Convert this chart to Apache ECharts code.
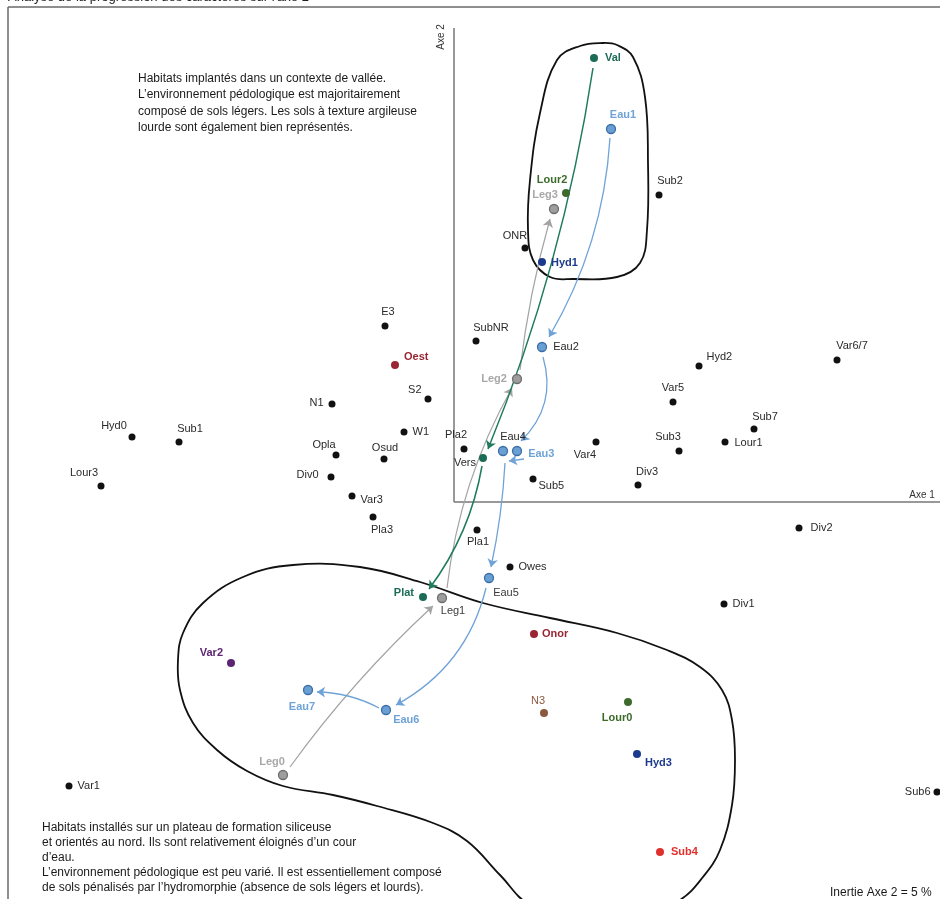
<!DOCTYPE html>
<html><head><meta charset="utf-8">
<script src="https://cdn.jsdelivr.net/npm/echarts@6/dist/echarts.min.js"></script>
<style>html,body{margin:0;padding:0;background:#fff}#c{width:940px;height:899px}</style>
</head><body><div id="c"></div>
<script>
// ---- data (factorial plane: Axe 1 horizontal, Axe 2 vertical) ----
const names = ['Val','Eau1','Lour2','Sub2','Leg3','ONR','Hyd1','E3','SubNR','Eau2','Oest','Var6/7','Hyd2','Leg2','S2','Var5','N1','Sub7','W1','Hyd0','Sub1','Var4','Lour1','Pla2','Eau4','Eau3','Sub3','Opla','Vers','Osud','Div0','Sub5','Div3','Lour3','Var3','Pla3','Div2','Pla1','Owes','Eau5','Plat','Leg1','Div1','Onor','Var2','Eau7','Lour0','Eau6','N3','Hyd3','Leg0','Var1','Sub6','Sub4'];
const axe1 = [1.40,1.57,1.12,2.05,1.00,0.71,0.88,-0.69,0.22,0.88,-0.59,3.83,2.45,0.63,-0.26,2.19,-1.22,3.00,-0.50,-3.22,-2.75,1.42,2.71,0.10,0.49,0.63,2.25,-1.18,0.29,-0.70,-1.23,0.79,1.84,-3.53,-1.02,-0.81,3.45,0.23,0.56,0.35,-0.31,-0.12,2.70,0.80,-2.23,-1.46,1.74,-0.68,0.90,1.83,-1.71,-3.85,4.83,2.06];
const axe2 = [4.44,3.73,3.09,3.07,2.93,2.54,2.40,1.76,1.61,1.55,1.37,1.42,1.36,1.23,1.03,1.00,0.98,0.73,0.70,0.65,0.60,0.60,0.60,0.53,0.51,0.51,0.51,0.47,0.44,0.43,0.25,0.23,0.17,0.16,0.06,-0.15,-0.26,-0.28,-0.65,-0.76,-0.95,-0.96,-1.02,-1.32,-1.61,-1.88,-2.00,-2.08,-2.11,-2.52,-2.73,-2.84,-2.90,-3.50];
const groups = ['teal','eau','green','k','leg','k','navy','k','k','eau','dred','k','k','leg','k','k','k','k','k','k','k','k','k','k','eau','eau','k','k','teal','k','k','k','k','k','k','k','k','k','k','eau','teal','leg','k','dred','purple','eau','green','eau','brown','navy','leg','k','k','red'];

// trajectories (arrow start / arrow end)
const valFrom = [[1.39,4.34],[0.28,0.36]];
const valTo   = [[0.34,0.53],[-0.25,-0.87]];
const legFrom = [[-1.64,-2.65],[-0.07,-0.86],[0.66,1.32]];
const legTo   = [[-0.21,-1.04],[0.58,1.14],[0.96,2.83]];
const eauFrom = [[1.56,3.64],[0.89,1.45],[0.70,0.43],[0.51,0.39],[0.32,-0.86],[-0.75,-2.06]];
const eauTo   = [[0.95,1.65],[0.67,0.61],[0.55,0.41],[0.37,-0.65],[-0.58,-2.03],[-1.37,-1.90]];

// enclosing outlines
const valleeX = [1.49,1.63,1.79,1.91,1.94,1.93,1.86,1.63,1.19,0.96,0.79,0.74,0.76,0.86,1.03,1.26];
const valleeY = [4.59,4.57,4.45,4.05,3.39,2.72,2.39,2.25,2.23,2.25,2.42,2.72,3.22,3.89,4.42,4.56];
const plateauX = [-1.61,-0.94,-0.34,0.29,0.96,1.63,2.13,2.46,2.68,2.78,2.81,2.78,2.66,2.49,2.26,1.86,1.26,0.76,0.46,0.13,-0.21,-0.77,-1.21,-1.71,-2.07,-2.37,-2.61,-2.74,-2.76,-2.71,-2.51,-2.11];
const plateauY = [-0.63,-0.65,-0.80,-1.01,-1.16,-1.31,-1.48,-1.65,-1.88,-2.18,-2.58,-3.03,-3.48,-3.75,-3.98,-4.16,-4.18,-4.03,-3.73,-3.39,-3.21,-3.04,-2.93,-2.84,-2.69,-2.48,-2.21,-1.88,-1.58,-1.31,-1.01,-0.75];

// ---- styles ----
const FONT = '"Liberation Sans", Arial, sans-serif';
const gStyle = {
  k:      {fill:'#111111', border:null, size:7, lc:'#2a2a2a', bold:false},
  teal:   {fill:'#1b6b57', border:null, size:8, lc:'#1b6b57', bold:true},
  green:  {fill:'#3d6b2c', border:null, size:8, lc:'#3d6b2c', bold:true},
  navy:   {fill:'#1c3a8c', border:null, size:8, lc:'#1c3a8c', bold:true},
  dred:   {fill:'#992632', border:null, size:8, lc:'#992632', bold:true},
  purple: {fill:'#5c2472', border:null, size:8, lc:'#5c2472', bold:true},
  brown:  {fill:'#8b5a3e', border:null, size:8, lc:'#8b5a3e', bold:false},
  red:    {fill:'#e0302b', border:null, size:8, lc:'#e0302b', bold:true},
  eau:    {fill:'#6a9fd4', border:'#3b6ea6', size:9, lc:'#6fa3d8', bold:true},
  leg:    {fill:'#9d9d9d', border:'#6e6e6e', size:9, lc:'#a8a8a8', bold:true}
};
const labelOverride = {
  'Vers':{lc:'#2a2a2a',bold:false}, 'Eau2':{lc:'#2a2a2a',bold:false}, 'Eau4':{lc:'#2a2a2a',bold:false},
  'Eau5':{lc:'#3a3a3a',bold:false}, 'Leg1':{lc:'#3a3a3a',bold:false}
};
const place = {
  'Val':['right',2,0],'Eau1':['top',12,2],'Lour2':['top',-14,1],'Sub2':['top',11,0],'Leg3':['top',-9,2],
  'ONR':['top',-10,2],'Hyd1':['right',0,1],'E3':['top',3,0],'SubNR':['top',15,1],'Eau2':['right',1,0],
  'Oest':['right',0,-8],'Var6/7':['top',15,0],'Hyd2':['right',-1,-9],'Leg2':['left',0,0],'S2':['left',2,-9],
  'Var5':['top',0,0],'N1':['left',0,-1],'Sub7':['top',11,2],'W1':['right',0,0],'Hyd0':['top',-18,3],
  'Sub1':['top',11,1],'Var4':['bottom',-11,-1],'Lour1':['right',1,1],'Pla2':['top',-8,0],'Eau4':['top',10,2],
  'Eau3':['right',1,3],'Sub3':['top',-11,0],'Opla':['top',-12,4],'Vers':['left',2,5],'Osud':['top',1,3],
  'Div0':['left',-4,-2],'Sub5':['right',-3,7],'Div3':['top',9,1],'Lour3':['top',-17,1],'Var3':['right',0,4],
  'Pla3':['bottom',9,-1],'Div2':['right',3,0],'Pla1':['bottom',1,-2],'Owes':['right',0,0],'Eau5':['bottom',17,-1],
  'Plat':['left',0,-4],'Leg1':['bottom',11,-3],'Div1':['right',0,0],'Onor':['right',-1,0],'Var2':['left',1,-10],
  'Eau7':['bottom',-6,1],'Lour0':['bottom',-11,1],'Eau6':['right',-3,10],'N3':['top',-6,2],'Hyd3':['right',-1,9],
  'Leg0':['top',-11,3],'Var1':['right',0,0],'Sub6':['left',2,0],'Sub4':['right',2,0]
};
const valBend = [0.06, 0.12];
const legBend = [0.05, 0.10, 0.04];
const eauBend = [0.12, 0.30, 0, 0.04, 0.22, -0.12];

const pointData = names.map((n,i)=>{
  const g = gStyle[groups[i]];
  const o = labelOverride[n] || {};
  const p = place[n] || ['right',0,0];
  return {
    name:n, value:[axe1[i], axe2[i]], symbolSize:g.size,
    itemStyle:{color:g.fill, opacity:1, borderColor:g.border||g.fill, borderWidth:g.border?1.3:0},
    label:{show:true, formatter:n, position:p[0], offset:[p[1],p[2]], distance:5,
      color:o.lc||g.lc, fontWeight:(o.bold!==undefined?o.bold:g.bold)?'bold':'normal',
      fontSize:11, fontFamily:FONT}
  };
});
function segs(from,to,bend){ return from.map((f,i)=>({coords:[f,to[i]], lineStyle:{curveness:bend[i]}})); }

const outlines = [[valleeX,valleeY],[plateauX,plateauY]];

const chart = echarts.init(document.getElementById('c'), null, {renderer:'canvas'});
chart.setOption({
  animation:false,
  backgroundColor:'#ffffff',
  grid:{left:0,right:0,top:0,bottom:0,containLabel:false},
  xAxis:{type:'value',min:-4.54,max:4.86,show:false},
  yAxis:{type:'value',min:-3.97,max:5.02,show:false},
  graphic:[
    {type:'line', shape:{x1:8,y1:7,x2:8,y2:899}, style:{stroke:'#6a6a6a',lineWidth:1.5}},
    {type:'line', shape:{x1:8,y1:7,x2:940,y2:7}, style:{stroke:'#6a6a6a',lineWidth:1.5}},
    {type:'text', x:8, y:-9.5, style:{text:"Analyse de la progression des caractères sur l'axe 2", font:'13px '+FONT, fill:'#222'}},
    {type:'text', x:138, y:70, style:{text:"Habitats implantés dans un contexte de vallée.\nL’environnement pédologique est majoritairement\ncomposé de sols légers. Les sols à texture argileuse\nlourde sont également bien représentés.", font:'12px '+FONT, fill:'#1a1a1a', lineHeight:16.5}},
    {type:'text', x:42, y:820.5, style:{text:"Habitats installés sur un plateau de formation siliceuse\net orientés au nord. Ils sont relativement éloignés d’un cour\nd’eau.\nL’environnement pédologique est peu varié. Il est essentiellement composé\nde sols pénalisés par l’hydromorphie (absence de sols légers et lourds).", font:'12px '+FONT, fill:'#1a1a1a', lineHeight:15}},
    {type:'text', x:830, y:886, style:{text:"Inertie Axe 2 = 5 %", font:'12px '+FONT, fill:'#1a1a1a', lineHeight:14}},
    {type:'text', x:441, y:37, rotation:Math.PI/2, style:{text:'Axe 2', font:'10px '+FONT, fill:'#333', align:'center', verticalAlign:'middle'}},
    {type:'text', x:922, y:495, style:{text:'Axe 1', font:'10px '+FONT, fill:'#333', align:'center', verticalAlign:'middle'}}
  ],
  series:[
    {type:'custom', coordinateSystem:'cartesian2d', silent:true, z:1, data:[[0,0],[0,0]],
     renderItem:function(params, api){
       const o = outlines[params.dataIndex];
       const pts = o[0].map((x,i)=>api.coord([x,o[1][i]]));
       return {type:'polygon', shape:{points:pts, smooth:0.4}, style:{fill:'none', stroke:'#111', lineWidth:1.8}};
     }},
    {type:'line', silent:true, z:1, symbol:'none', data:[[0,0],[4.86,0]], lineStyle:{color:'#777',width:1.5}},
    {type:'line', silent:true, z:1, symbol:'none', data:[[0,0],[0,4.74]], lineStyle:{color:'#777',width:1.5}},
    {type:'lines', coordinateSystem:'cartesian2d', silent:true, z:2, symbol:['none','arrow'], symbolSize:8,
     lineStyle:{color:'#a3a3a3', width:1.2, opacity:1}, data:segs(legFrom,legTo,legBend)},
    {type:'lines', coordinateSystem:'cartesian2d', silent:true, z:2, symbol:['none','arrow'], symbolSize:8,
     lineStyle:{color:'#1f7a5f', width:1.5, opacity:1}, data:segs(valFrom,valTo,valBend)},
    {type:'lines', coordinateSystem:'cartesian2d', silent:true, z:2, symbol:['none','arrow'], symbolSize:8,
     lineStyle:{color:'#6fa3d8', width:1.3, opacity:1}, data:segs(eauFrom,eauTo,eauBend)},
    {type:'scatter', z:5, data:pointData, itemStyle:{opacity:1}, emphasis:{disabled:true}}
  ]
});
</script></body></html>
